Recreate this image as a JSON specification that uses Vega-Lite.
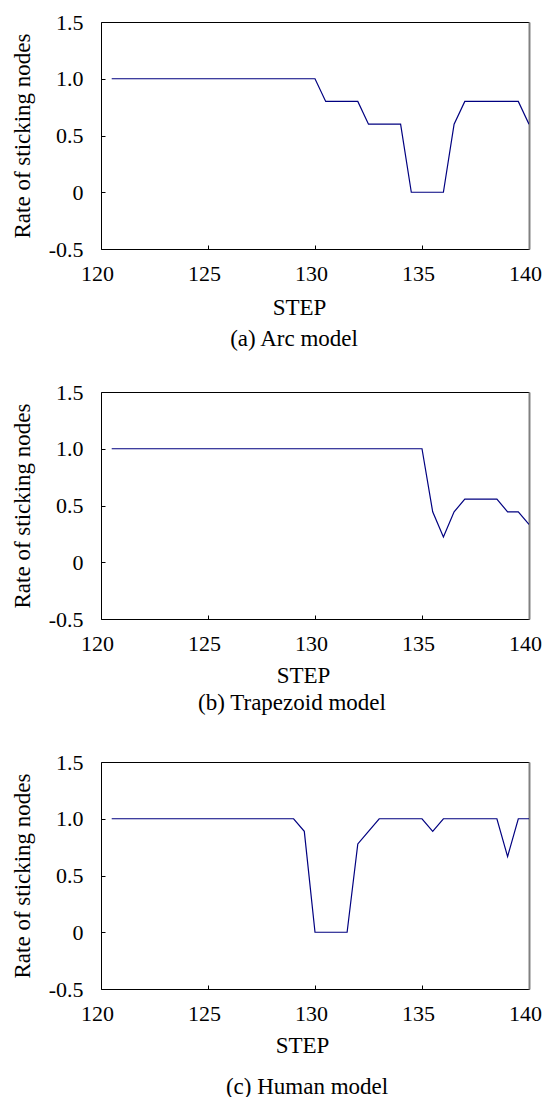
{
  "$schema": "https://vega.github.io/schema/vega-lite/v6.json",
  "background": "white",
  "padding": {"left": 11, "top": 11, "right": 0, "bottom": 0},
  "bounds": "flush",
  "spacing": 143,
  "config": {
    "view": {"stroke": null},
    "font": "Liberation Serif",
    "axis": {
      "grid": false,
      "labelFont": "Liberation Serif",
      "labelFontSize": 22,
      "labelColor": "black",
      "titleFont": "Liberation Serif",
      "titleFontSize": 23,
      "titleFontWeight": "normal",
      "titleColor": "black",
      "domainColor": "black",
      "domainWidth": 1,
      "tickColor": "black",
      "tickSize": -4,
      "labelFlush": false,
      "labelOverlap": false
    },
    "title": {"font": "Liberation Serif", "fontSize": 23, "fontWeight": "normal", "color": "black", "orient": "bottom", "anchor": "middle"}
  },
  "vconcat": [
    {
      "width": 428, "height": 227,
      "title": {"text": "(a) Arc model", "orient": "bottom", "offset": 9, "dx": -21},
      "data": {"values": [
        {"step": 120.5, "rate": 1.0}, {"step": 130.0, "rate": 1.0},
        {"step": 130.5, "rate": 0.8}, {"step": 132.0, "rate": 0.8},
        {"step": 132.5, "rate": 0.6}, {"step": 134.0, "rate": 0.6},
        {"step": 134.5, "rate": 0.0}, {"step": 136.0, "rate": 0.0},
        {"step": 136.5, "rate": 0.6}, {"step": 137.0, "rate": 0.8},
        {"step": 139.5, "rate": 0.8}, {"step": 140.0, "rate": 0.6}
      ]},
      "layer": [
        {
          "mark": {"type": "line", "color": "#000080", "strokeWidth": 1.2, "clip": true},
          "encoding": {
            "x": {"field": "step", "type": "quantitative", "scale": {"domain": [120, 140], "nice": false, "zero": false},
                  "axis": {"orient": "bottom", "values": [120, 125, 130, 135, 140], "title": "STEP", "labelPadding": 18, "labelOffset": -4, "titlePadding": 12, "titleX": 198}},
            "y": {"field": "rate", "type": "quantitative", "scale": {"domain": [-0.5, 1.5], "nice": false, "zero": false},
                  "axis": {"orient": "left", "values": [-0.5, 0, 0.5, 1, 1.5], "title": "Rate of sticking nodes", "labelPadding": 22, "titlePadding": 14,
                           "labelExpr": "datum.value == 0 ? '0' : (datum.value < 0 ? '-' + format(-datum.value, '.1f') : format(datum.value, '.1f'))"}}
          }
        },
        {
          "mark": {"type": "line", "opacity": 0},
          "encoding": {
            "x": {"field": "step", "type": "quantitative", "scale": {"domain": [120, 140], "nice": false, "zero": false},
                  "axis": {"orient": "top", "labels": false, "ticks": false, "title": null}},
            "y": {"field": "rate", "type": "quantitative", "scale": {"domain": [-0.5, 1.5], "nice": false, "zero": false},
                  "axis": {"orient": "right", "labels": false, "ticks": false, "title": null, "domainColor": "#808080", "domainWidth": 2}}
          }
        }
      ],
      "resolve": {"axis": {"x": "independent", "y": "independent"}}
    },
    {
      "width": 428, "height": 227,
      "title": {"text": "(b) Trapezoid model", "orient": "bottom", "offset": 5, "dx": -23},
      "data": {"values": [
        {"step": 120.5, "rate": 1.0}, {"step": 135.0, "rate": 1.0},
        {"step": 135.5, "rate": 0.444}, {"step": 136.0, "rate": 0.222},
        {"step": 136.5, "rate": 0.444}, {"step": 137.0, "rate": 0.556},
        {"step": 138.5, "rate": 0.556}, {"step": 139.0, "rate": 0.444},
        {"step": 139.5, "rate": 0.444}, {"step": 140.0, "rate": 0.333}
      ]},
      "layer": [
        {
          "mark": {"type": "line", "color": "#000080", "strokeWidth": 1.2, "clip": true},
          "encoding": {
            "x": {"field": "step", "type": "quantitative", "scale": {"domain": [120, 140], "nice": false, "zero": false},
                  "axis": {"orient": "bottom", "values": [120, 125, 130, 135, 140], "title": "STEP", "labelPadding": 18, "labelOffset": -4, "titlePadding": 10, "titleX": 202}},
            "y": {"field": "rate", "type": "quantitative", "scale": {"domain": [-0.5, 1.5], "nice": false, "zero": false},
                  "axis": {"orient": "left", "values": [-0.5, 0, 0.5, 1, 1.5], "title": "Rate of sticking nodes", "labelPadding": 22, "titlePadding": 14,
                           "labelExpr": "datum.value == 0 ? '0' : (datum.value < 0 ? '-' + format(-datum.value, '.1f') : format(datum.value, '.1f'))"}}
          }
        },
        {
          "mark": {"type": "line", "opacity": 0},
          "encoding": {
            "x": {"field": "step", "type": "quantitative", "scale": {"domain": [120, 140], "nice": false, "zero": false},
                  "axis": {"orient": "top", "labels": false, "ticks": false, "title": null}},
            "y": {"field": "rate", "type": "quantitative", "scale": {"domain": [-0.5, 1.5], "nice": false, "zero": false},
                  "axis": {"orient": "right", "labels": false, "ticks": false, "title": null, "domainColor": "#808080", "domainWidth": 2}}
          }
        }
      ],
      "resolve": {"axis": {"x": "independent", "y": "independent"}}
    },
    {
      "width": 428, "height": 227,
      "title": {"text": "(c) Human model", "orient": "bottom", "offset": 19, "dx": -8},
      "data": {"values": [
        {"step": 120.5, "rate": 1.0}, {"step": 129.0, "rate": 1.0},
        {"step": 129.5, "rate": 0.889}, {"step": 130.0, "rate": 0.0},
        {"step": 131.5, "rate": 0.0}, {"step": 132.0, "rate": 0.778},
        {"step": 132.5, "rate": 0.889}, {"step": 133.0, "rate": 1.0},
        {"step": 135.0, "rate": 1.0}, {"step": 135.5, "rate": 0.889},
        {"step": 136.0, "rate": 1.0}, {"step": 138.5, "rate": 1.0},
        {"step": 139.0, "rate": 0.667}, {"step": 139.5, "rate": 1.0},
        {"step": 140.0, "rate": 1.0}
      ]},
      "layer": [
        {
          "mark": {"type": "line", "color": "#000080", "strokeWidth": 1.2, "clip": true},
          "encoding": {
            "x": {"field": "step", "type": "quantitative", "scale": {"domain": [120, 140], "nice": false, "zero": false},
                  "axis": {"orient": "bottom", "values": [120, 125, 130, 135, 140], "title": "STEP", "labelPadding": 18, "labelOffset": -4, "titlePadding": 10, "titleX": 201}},
            "y": {"field": "rate", "type": "quantitative", "scale": {"domain": [-0.5, 1.5], "nice": false, "zero": false},
                  "axis": {"orient": "left", "values": [-0.5, 0, 0.5, 1, 1.5], "title": "Rate of sticking nodes", "labelPadding": 22, "titlePadding": 14,
                           "labelExpr": "datum.value == 0 ? '0' : (datum.value < 0 ? '-' + format(-datum.value, '.1f') : format(datum.value, '.1f'))"}}
          }
        },
        {
          "mark": {"type": "line", "opacity": 0},
          "encoding": {
            "x": {"field": "step", "type": "quantitative", "scale": {"domain": [120, 140], "nice": false, "zero": false},
                  "axis": {"orient": "top", "labels": false, "ticks": false, "title": null}},
            "y": {"field": "rate", "type": "quantitative", "scale": {"domain": [-0.5, 1.5], "nice": false, "zero": false},
                  "axis": {"orient": "right", "labels": false, "ticks": false, "title": null, "domainColor": "#808080", "domainWidth": 2}}
          }
        }
      ],
      "resolve": {"axis": {"x": "independent", "y": "independent"}}
    }
  ]
}
